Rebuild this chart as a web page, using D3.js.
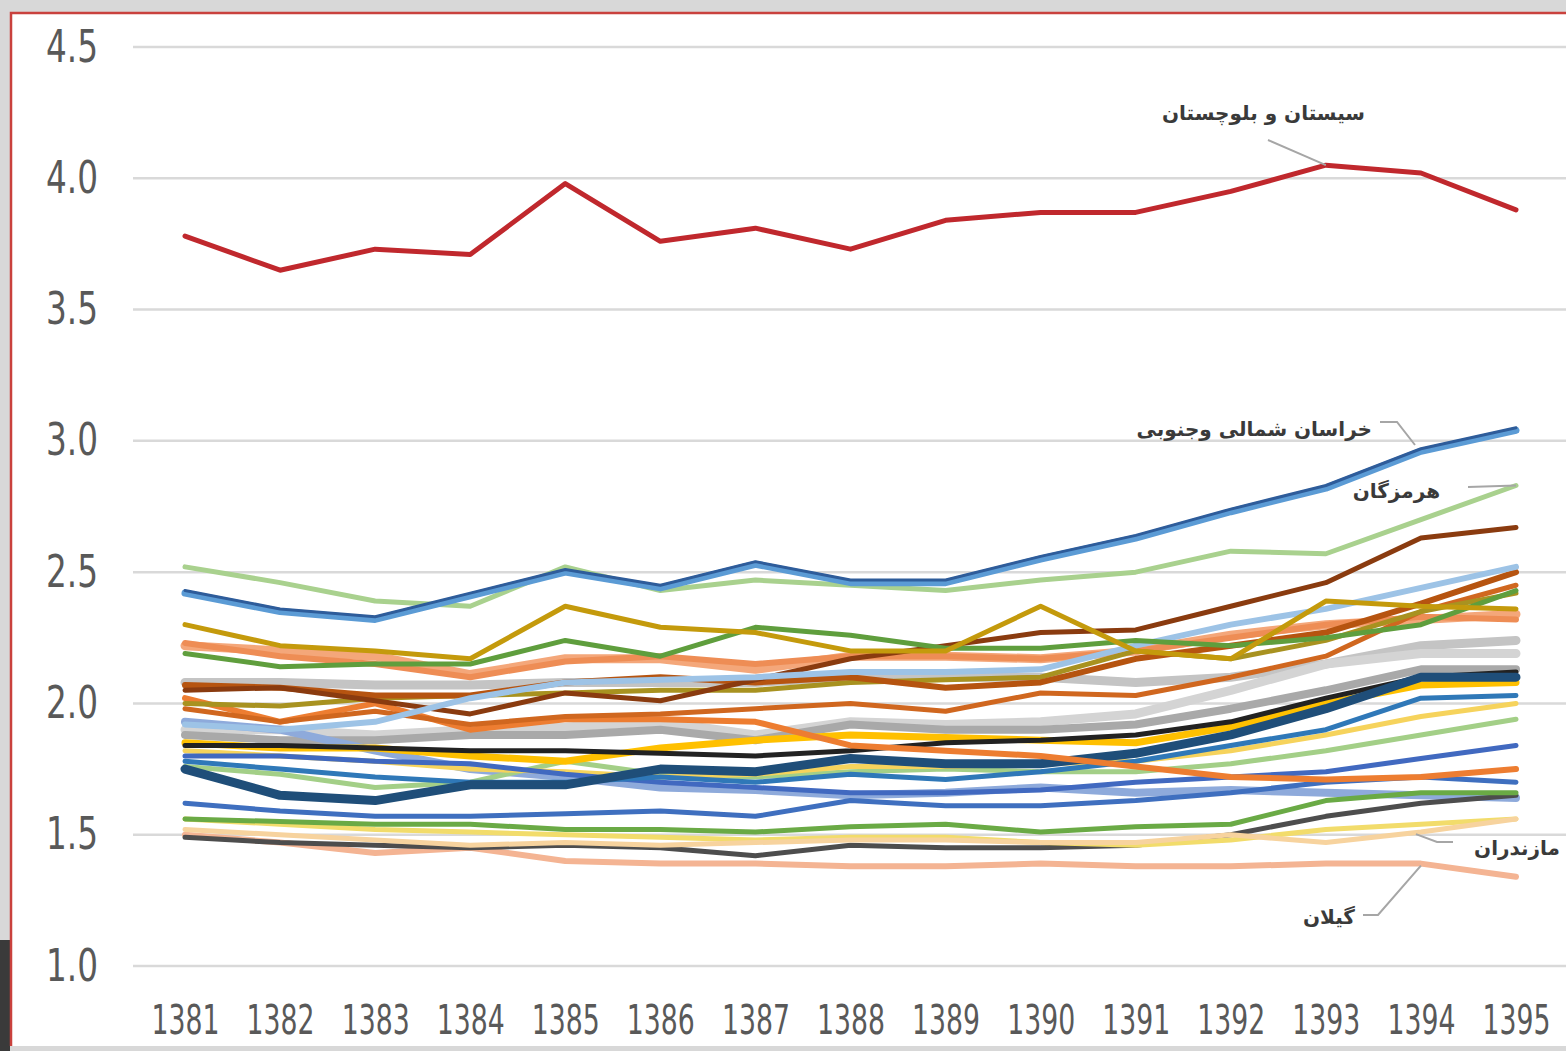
<!DOCTYPE html>
<html>
<head>
<meta charset="utf-8">
<script src="https://cdn.jsdelivr.net/npm/d3@7/dist/d3.min.js"></script>
<style>
  html, body { margin: 0; padding: 0; background: #dcdcdc; }
  svg { display: block; }
</style>
</head>
<body>
<div id="chart"></div>
<script>
// years on the x axis and the y ticks
var years = [1381, 1382, 1383, 1384, 1385, 1386, 1387, 1388, 1389, 1390, 1391, 1392, 1393, 1394, 1395];
var yTicks = [1.0, 1.5, 2.0, 2.5, 3.0, 3.5, 4.0, 4.5];

// series values, one array per province line
var gilan       = [1.50, 1.47, 1.43, 1.45, 1.40, 1.39, 1.39, 1.38, 1.38, 1.39, 1.38, 1.38, 1.39, 1.39, 1.34];
var darkGrey    = [1.49, 1.47, 1.46, 1.45, 1.46, 1.45, 1.42, 1.46, 1.45, 1.45, 1.46, 1.50, 1.57, 1.62, 1.65];
var mazandaran  = [1.52, 1.50, 1.48, 1.46, 1.47, 1.46, 1.47, 1.48, 1.48, 1.47, 1.47, 1.50, 1.47, 1.51, 1.56];
var paleYellow  = [1.56, 1.54, 1.52, 1.51, 1.50, 1.49, 1.48, 1.49, 1.49, 1.47, 1.46, 1.48, 1.52, 1.54, 1.56];
var greenLow    = [1.56, 1.55, 1.54, 1.54, 1.52, 1.52, 1.51, 1.53, 1.54, 1.51, 1.53, 1.54, 1.63, 1.66, 1.66];
var blueLow     = [1.62, 1.59, 1.57, 1.57, 1.58, 1.59, 1.57, 1.63, 1.61, 1.61, 1.63, 1.66, 1.70, 1.72, 1.70];
var steelBlue   = [1.93, 1.90, 1.82, 1.75, 1.72, 1.68, 1.67, 1.65, 1.66, 1.68, 1.66, 1.67, 1.66, 1.65, 1.64];
var navy        = [1.75, 1.65, 1.63, 1.69, 1.69, 1.75, 1.74, 1.79, 1.77, 1.77, 1.81, 1.88, 1.98, 2.10, 2.10];
var blueMid     = [1.78, 1.75, 1.72, 1.70, 1.70, 1.72, 1.70, 1.73, 1.71, 1.74, 1.78, 1.84, 1.90, 2.02, 2.03];
var blueCross   = [1.80, 1.80, 1.78, 1.77, 1.73, 1.70, 1.68, 1.66, 1.66, 1.67, 1.70, 1.72, 1.74, 1.79, 1.84];
var gold        = [1.85, 1.83, 1.83, 1.80, 1.78, 1.83, 1.86, 1.88, 1.87, 1.86, 1.85, 1.91, 2.00, 2.07, 2.08];
var lightYellow = [1.82, 1.80, 1.78, 1.75, 1.74, 1.72, 1.73, 1.76, 1.76, 1.77, 1.78, 1.82, 1.88, 1.95, 2.00];
var lightGreen  = [1.76, 1.73, 1.68, 1.70, 1.78, 1.73, 1.72, 1.74, 1.75, 1.74, 1.74, 1.77, 1.82, 1.88, 1.94];
var black       = [1.84, 1.84, 1.83, 1.82, 1.82, 1.81, 1.80, 1.82, 1.85, 1.86, 1.88, 1.93, 2.02, 2.10, 2.12];
var grey        = [1.88, 1.86, 1.86, 1.88, 1.88, 1.90, 1.86, 1.92, 1.90, 1.90, 1.92, 1.98, 2.05, 2.13, 2.13];
var silver      = [1.90, 1.90, 1.88, 1.90, 1.91, 1.93, 1.88, 1.93, 1.92, 1.93, 1.96, 2.05, 2.15, 2.19, 2.19];
var orange      = [2.02, 1.93, 2.00, 1.90, 1.94, 1.94, 1.93, 1.84, 1.82, 1.80, 1.76, 1.72, 1.71, 1.72, 1.75];
var darkOrange  = [1.98, 1.93, 1.97, 1.92, 1.95, 1.96, 1.98, 2.00, 1.97, 2.04, 2.03, 2.10, 2.18, 2.35, 2.45];
var brown       = [2.05, 2.06, 2.01, 1.96, 2.04, 2.01, 2.09, 2.17, 2.22, 2.27, 2.28, 2.37, 2.46, 2.63, 2.67];
var rust        = [2.07, 2.06, 2.03, 2.03, 2.08, 2.10, 2.08, 2.10, 2.06, 2.08, 2.17, 2.22, 2.27, 2.38, 2.50];
var olive       = [2.00, 1.99, 2.02, 2.03, 2.04, 2.05, 2.05, 2.08, 2.09, 2.10, 2.20, 2.17, 2.24, 2.35, 2.42];
var lightGrey   = [2.08, 2.08, 2.07, 2.07, 2.08, 2.08, 2.08, 2.10, 2.10, 2.10, 2.08, 2.10, 2.15, 2.22, 2.24];
var skyBlue     = [1.92, 1.90, 1.93, 2.02, 2.08, 2.09, 2.10, 2.12, 2.12, 2.13, 2.22, 2.30, 2.36, 2.44, 2.52];
var salmon      = [2.22, 2.20, 2.18, 2.11, 2.17, 2.17, 2.13, 2.18, 2.18, 2.17, 2.20, 2.26, 2.30, 2.32, 2.34];
var coral       = [2.23, 2.18, 2.15, 2.10, 2.16, 2.18, 2.15, 2.18, 2.18, 2.17, 2.20, 2.25, 2.30, 2.33, 2.32];
var ochre       = [2.30, 2.22, 2.20, 2.17, 2.37, 2.29, 2.27, 2.20, 2.20, 2.37, 2.20, 2.17, 2.39, 2.37, 2.36];
var green       = [2.19, 2.14, 2.15, 2.15, 2.24, 2.18, 2.29, 2.26, 2.21, 2.21, 2.24, 2.22, 2.25, 2.30, 2.43];
var hormozgan   = [2.52, 2.46, 2.39, 2.37, 2.52, 2.43, 2.47, 2.45, 2.43, 2.47, 2.50, 2.58, 2.57, 2.70, 2.83];
var khorasanS   = [2.43, 2.36, 2.33, 2.42, 2.51, 2.45, 2.54, 2.47, 2.47, 2.56, 2.64, 2.74, 2.83, 2.97, 3.05];
var khorasanN   = [2.42, 2.35, 2.32, 2.41, 2.50, 2.44, 2.53, 2.46, 2.46, 2.55, 2.63, 2.73, 2.82, 2.96, 3.04];
var sistan      = [3.78, 3.65, 3.73, 3.71, 3.98, 3.76, 3.81, 3.73, 3.84, 3.87, 3.87, 3.95, 4.05, 4.02, 3.88];

// drawing order, colours and widths
var series = [
  {v: lightGrey,   c: "#c4c4c4", w: 9},
  {v: silver,      c: "#d4d4d4", w: 9},
  {v: grey,        c: "#a9a9a9", w: 8},
  {v: steelBlue,   c: "#8eaadb", w: 8},
  {v: salmon,      c: "#f4a77a", w: 9},
  {v: coral,       c: "#ee8d55", w: 6},
  {v: gilan,       c: "#f4b493", w: 6},
  {v: darkGrey,    c: "#4d4d4d", w: 5},
  {v: paleYellow,  c: "#f2dc6b", w: 5},
  {v: mazandaran,  c: "#f7d39e", w: 5},
  {v: greenLow,    c: "#6aaa45", w: 5},
  {v: blueLow,     c: "#3f6fbf", w: 5},
  {v: lightGreen,  c: "#a3cf87", w: 5},
  {v: lightYellow, c: "#f6d35c", w: 5},
  {v: gold,        c: "#ffc000", w: 7},
  {v: black,       c: "#222222", w: 5},
  {v: blueCross,   c: "#4169c0", w: 5},
  {v: blueMid,     c: "#2f78b8", w: 5},
  {v: navy,        c: "#1f4e79", w: 9},
  {v: orange,      c: "#ed7d31", w: 6},
  {v: darkOrange,  c: "#d0671f", w: 5},
  {v: olive,       c: "#a89220", w: 5},
  {v: rust,        c: "#b65410", w: 6},
  {v: brown,       c: "#8a3b0f", w: 5},
  {v: skyBlue,     c: "#9dc3e6", w: 6},
  {v: green,       c: "#5f9e3d", w: 5},
  {v: ochre,       c: "#c49a0c", w: 5},
  {v: hormozgan,   c: "#a9d18e", w: 5},
  {v: khorasanN,   c: "#5b9bd5", w: 7},
  {v: khorasanS,   c: "#2e5c9a", w: 3},
  {v: sistan,      c: "#c0282d", w: 5}
];

var W = 1566, H = 1051;
var svg = d3.select("#chart").append("svg")
  .attr("width", W)
  .attr("height", H);

// frame of the screenshot
svg.append("rect").attr("x", 0).attr("y", 0).attr("width", W).attr("height", H).attr("fill", "#d8d8d8");
svg.append("rect").attr("x", 0).attr("y", 940).attr("width", 10).attr("height", 111).attr("fill", "#3a3a3a");
svg.append("rect").attr("x", 11).attr("y", 13).attr("width", W - 11).attr("height", 1033).attr("fill", "#ffffff");
svg.append("path").attr("d", "M11,1046V13H" + W).attr("fill", "none").attr("stroke", "#c9413d").attr("stroke-width", 2.5);

var x = d3.scaleLinear().domain([1381, 1395]).range([185, 1516]);
var y = d3.scaleLinear().domain([1, 4.5]).range([966, 47]);

// gridlines
svg.append("g")
  .selectAll("line")
  .data(yTicks)
  .enter().append("line")
    .attr("x1", 133).attr("x2", W)
    .attr("y1", function(d) { return y(d); })
    .attr("y2", function(d) { return y(d); })
    .attr("stroke", "#d9d9d9")
    .attr("stroke-width", 2.5);

// y axis labels
var yAxis = svg.append("g")
  .attr("transform", "translate(98,0)")
  .call(d3.axisLeft(y).tickValues(yTicks).tickFormat(d3.format(".1f")).tickSize(0).tickPadding(0));
yAxis.select(".domain").remove();
yAxis.selectAll("text")
  .attr("fill", "#595959")
  .attr("textLength", 52)
  .attr("lengthAdjust", "spacingAndGlyphs")
  .style("font-family", "'DejaVu Sans Condensed', sans-serif")
  .style("font-size", "44px");

// x axis labels
var xAxis = svg.append("g")
  .attr("transform", "translate(0,1006)")
  .call(d3.axisBottom(x).tickValues(years).tickFormat(d3.format("d")).tickSize(0).tickPadding(0));
xAxis.select(".domain").remove();
xAxis.selectAll("text")
  .attr("fill", "#595959")
  .attr("textLength", 68)
  .attr("lengthAdjust", "spacingAndGlyphs")
  .style("font-family", "'DejaVu Sans Condensed', sans-serif")
  .style("font-size", "40px");

// lines
var line = d3.line()
  .x(function(d, i) { return x(years[i]); })
  .y(function(d) { return y(d); });

svg.append("g")
  .selectAll("path")
  .data(series)
  .enter().append("path")
    .attr("d", function(d) { return line(d.v); })
    .attr("fill", "none")
    .attr("stroke", function(d) { return d.c; })
    .attr("stroke-width", function(d) { return d.w; })
    .attr("stroke-linejoin", "round")
    .attr("stroke-linecap", "round");

// callout labels with leader lines (text anchored at its right edge)
var labels = [
  {t: "سیستان و بلوچستان",   tx: 1365, ty: 120, pts: [[1268, 140], [x(1393), y(4.05)]]},
  {t: "خراسان شمالی وجنوبی", tx: 1372, ty: 436, pts: [[1380, 422], [1397, 422], [1415, 445]]},
  {t: "هرمزگان",              tx: 1440, ty: 498, pts: [[1468, 487], [x(1395), y(2.83)]]},
  {t: "مازندران",             tx: 1560, ty: 855, pts: [[x(1394) - 5, y(1.51) + 2], [1437, 842], [1453, 842]]},
  {t: "گیلان",                tx: 1355, ty: 924, pts: [[1363, 915], [1378, 915], [x(1394), y(1.39) + 2]]}
];

svg.append("g")
  .selectAll("path")
  .data(labels)
  .enter().append("path")
    .attr("d", function(d) { return d3.line()(d.pts); })
    .attr("fill", "none")
    .attr("stroke", "#a6a6a6")
    .attr("stroke-width", 2);

svg.append("g")
  .selectAll("text")
  .data(labels)
  .enter().append("text")
    .attr("x", function(d) { return d.tx; })
    .attr("y", function(d) { return d.ty; })
    .attr("text-anchor", "end")
    .attr("fill", "#3a3a3a")
    .style("font-family", "'DejaVu Sans', sans-serif")
    .style("font-weight", "bold")
    .style("font-size", "20px")
    .text(function(d) { return d.t; });
</script>
</body>
</html>
